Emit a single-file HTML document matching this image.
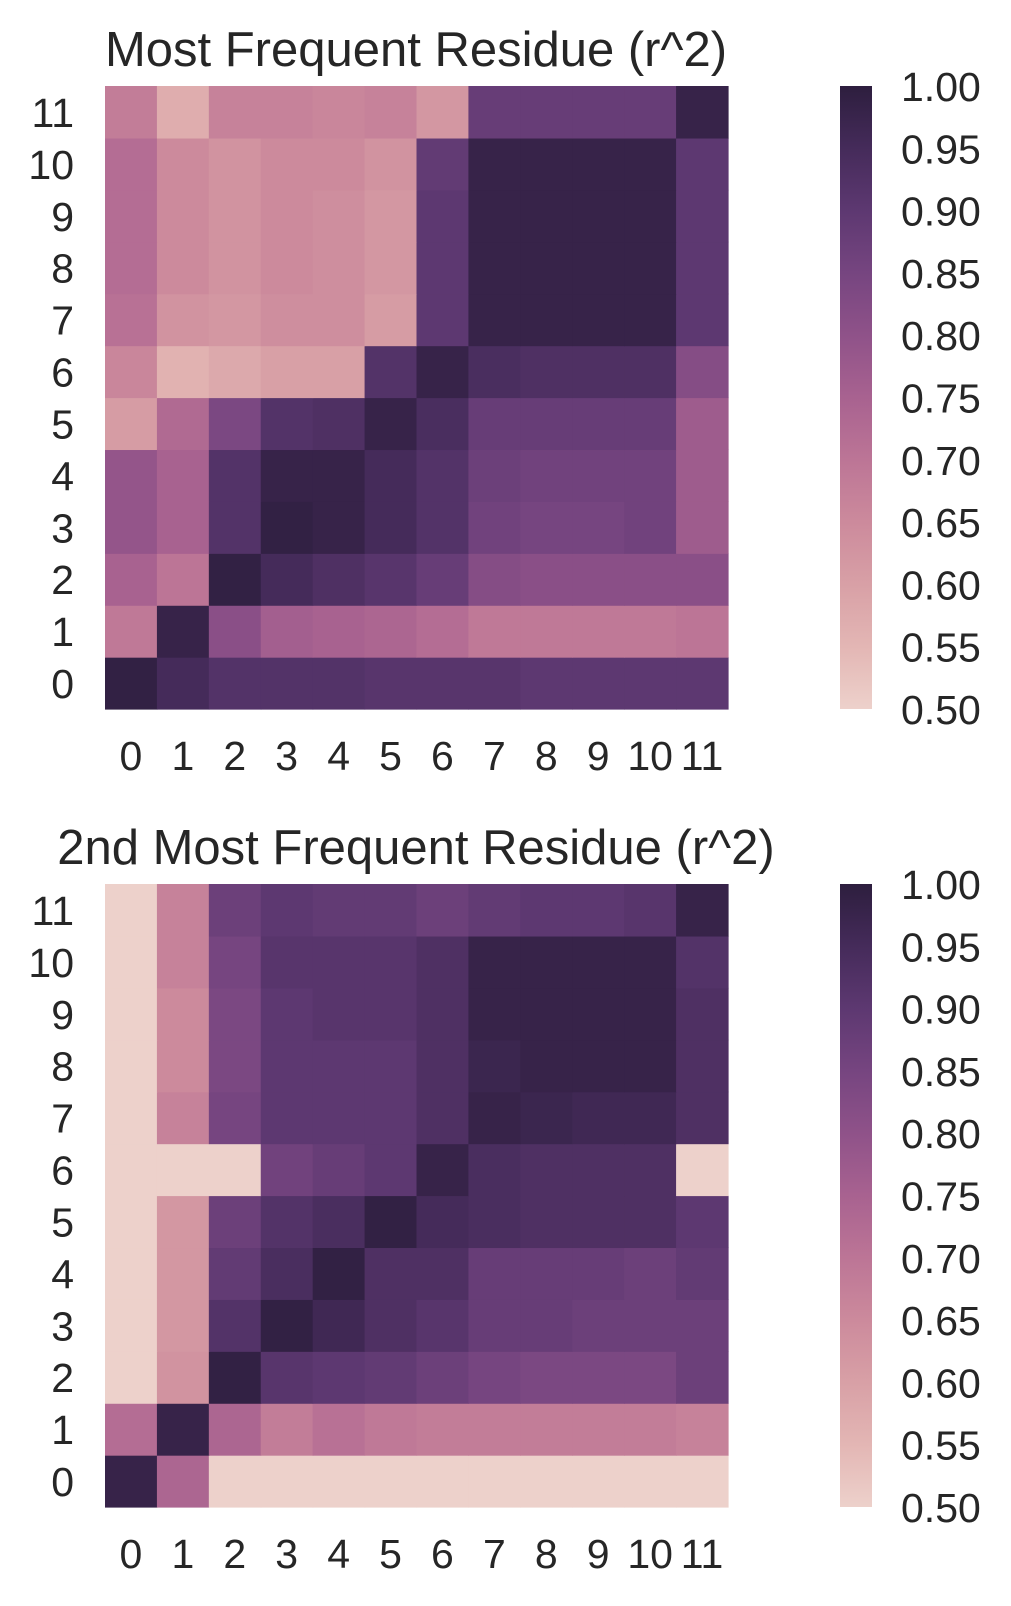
<!DOCTYPE html>
<html><head><meta charset="utf-8"><style>
body{margin:0;background:#fff;}
svg{display:block;font-family:"Liberation Sans",sans-serif;fill:#262626;}
</style></head><body>
<svg id="chart" width="1011" height="1606" viewBox="0 0 1011 1606" xmlns="http://www.w3.org/2000/svg">
<defs>
<linearGradient id="cbgrad" x1="0" y1="1" x2="0" y2="0">
<stop offset="0" stop-color="#edd1cb"/><stop offset="0.1" stop-color="#e3b6b4"/><stop offset="0.2" stop-color="#d8a0a6"/><stop offset="0.3" stop-color="#cc8a9c"/><stop offset="0.4" stop-color="#bc7596"/><stop offset="0.5" stop-color="#a86290"/><stop offset="0.6" stop-color="#8f5289"/><stop offset="0.7" stop-color="#764580"/><stop offset="0.8" stop-color="#5d3871"/><stop offset="0.9" stop-color="#452b5a"/><stop offset="1" stop-color="#2d1e3e"/>
</linearGradient>
</defs>
</svg>
<script>
const categories=["0","1","2","3","4","5","6","7","8","9","10","11"];
const cbTicks=[0.50,0.55,0.60,0.65,0.70,0.75,0.80,0.85,0.90,0.95,1.00];
// rows listed from row 0 (bottom) to row 11 (top)
const mostFrequent=[
[0.99,0.95,0.92,0.92,0.92,0.91,0.91,0.91,0.90,0.90,0.90,0.90],
[0.69,0.98,0.81,0.76,0.75,0.74,0.72,0.69,0.69,0.69,0.69,0.70],
[0.75,0.70,0.99,0.95,0.93,0.91,0.88,0.82,0.81,0.81,0.81,0.81],
[0.79,0.75,0.92,0.99,0.98,0.95,0.92,0.86,0.85,0.85,0.86,0.77],
[0.79,0.75,0.92,0.98,0.98,0.95,0.92,0.87,0.86,0.86,0.86,0.77],
[0.61,0.73,0.84,0.92,0.93,0.98,0.94,0.88,0.88,0.88,0.88,0.77],
[0.66,0.56,0.58,0.60,0.60,0.92,0.98,0.94,0.93,0.93,0.93,0.82],
[0.71,0.63,0.62,0.64,0.64,0.61,0.90,0.98,0.98,0.98,0.98,0.90],
[0.72,0.65,0.63,0.65,0.64,0.62,0.90,0.98,0.98,0.98,0.98,0.90],
[0.72,0.65,0.63,0.65,0.64,0.62,0.90,0.98,0.98,0.98,0.98,0.90],
[0.72,0.65,0.63,0.65,0.65,0.63,0.89,0.98,0.98,0.98,0.98,0.90],
[0.68,0.57,0.67,0.67,0.66,0.67,0.62,0.88,0.88,0.88,0.88,0.98]
];
const secondFrequent=[
[0.98,0.74,0.50,0.50,0.50,0.50,0.50,0.50,0.50,0.50,0.50,0.50],
[0.72,0.98,0.74,0.68,0.71,0.69,0.68,0.68,0.68,0.68,0.68,0.67],
[0.50,0.63,0.99,0.91,0.90,0.89,0.87,0.85,0.84,0.84,0.84,0.87],
[0.50,0.62,0.92,0.99,0.96,0.93,0.91,0.88,0.88,0.87,0.87,0.87],
[0.50,0.62,0.89,0.94,0.99,0.93,0.93,0.88,0.88,0.88,0.87,0.89],
[0.50,0.62,0.87,0.92,0.94,0.99,0.95,0.94,0.93,0.93,0.93,0.90],
[0.50,0.50,0.50,0.86,0.88,0.90,0.98,0.94,0.93,0.93,0.93,0.50],
[0.50,0.67,0.85,0.90,0.90,0.90,0.93,0.98,0.97,0.96,0.96,0.93],
[0.50,0.65,0.84,0.90,0.90,0.90,0.93,0.97,0.98,0.98,0.98,0.93],
[0.50,0.65,0.84,0.90,0.91,0.91,0.93,0.98,0.98,0.98,0.98,0.93],
[0.50,0.67,0.85,0.91,0.91,0.91,0.93,0.98,0.98,0.98,0.98,0.92],
[0.50,0.67,0.87,0.90,0.89,0.89,0.87,0.89,0.90,0.90,0.91,0.98]
];
const stops=["#edd1cb","#e3b6b4","#d8a0a6","#cc8a9c","#bc7596","#a86290","#8f5289","#764580","#5d3871","#452b5a","#2d1e3e"];
const vmin=0.5,vmax=1.0;
function hex(c){return [1,3,5].map(i=>parseInt(c.substr(i,2),16));}
function color(v){let t=Math.max(0,Math.min(1,(v-vmin)/(vmax-vmin)))*(stops.length-1);let i=Math.min(stops.length-2,Math.floor(t));let f=t-i;let a=hex(stops[i]),b=hex(stops[i+1]);return "rgb("+a.map((x,k)=>Math.round(x+(b[k]-x)*f)).join(",")+")";}
const NS="http://www.w3.org/2000/svg";
const svg=document.getElementById("chart");
function el(tag,attrs,parent){const e=document.createElementNS(NS,tag);for(const k in attrs)e.setAttribute(k,attrs[k]);(parent||svg).appendChild(e);return e;}
const X0=105,X1=728,n=categories.length,cw=(X1-X0)/n;
function panel(data,top,title,titleX,key){
  const g=el("g",{});
  
  
  const bottom=top+623, ch=(bottom-top)/n;
  const xs=i=>X0+i*cw, ys=r=>bottom-(r+1)*ch;
  const t=el("text",{x:titleX,y:top-20,"font-size":"49","text-anchor":"middle"},g);
  t.textContent=title;
  
  
  data.forEach((row,r)=>row.forEach((v,c)=>{
    const rc=el("rect",{x:xs(c),y:ys(r),width:cw+0.6,height:ch+0.6,fill:color(v)},g);
    
    
  }));
  categories.forEach((lab,i)=>{
    const tx=el("text",{x:xs(i)+cw/2,y:bottom+61,"font-size":"41","text-anchor":"middle"},g);
    tx.textContent=lab;
    
    
    const ty=el("text",{x:74,y:ys(i)+ch/2+15,"font-size":"41","text-anchor":"end"},g);
    ty.textContent=lab;
    
    
  });
  const cb=el("rect",{x:840,y:top,width:32,height:bottom-top,fill:"url(#cbgrad)"},g);
  
  
  cbTicks.forEach(v=>{
    const y=bottom-(v-vmin)/(vmax-vmin)*(bottom-top);
    const tl=el("text",{x:901,y:y+15,"font-size":"41"},g);
    tl.textContent=v.toFixed(2);
    
    
  });
}
panel(mostFrequent,86,"Most Frequent Residue (r^2)",416,"most-frequent");
panel(secondFrequent,884,"2nd Most Frequent Residue (r^2)",416,"second-frequent");
</script>
</body></html>
